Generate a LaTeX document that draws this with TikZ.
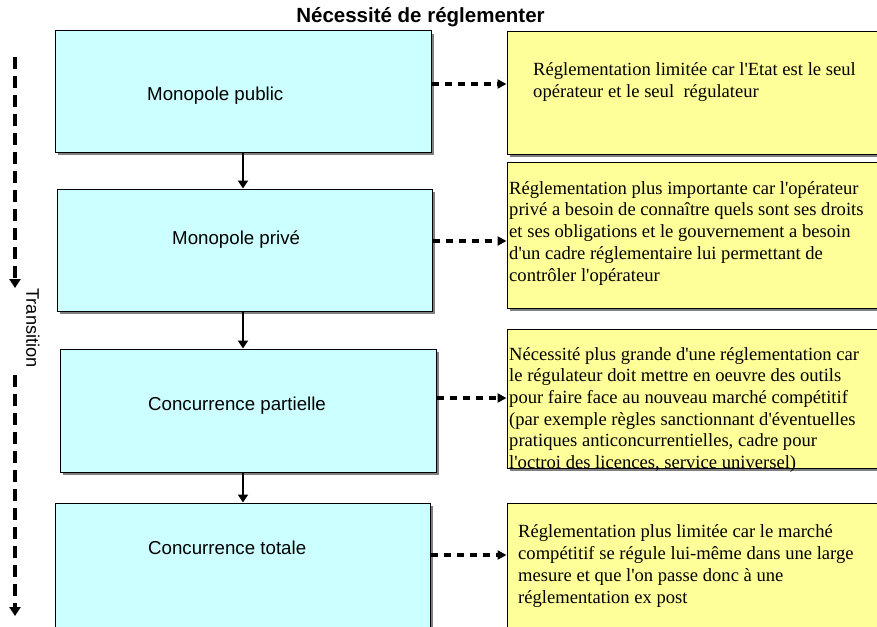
\documentclass[tikz,border=0pt]{standalone}
\usepackage{fontspec}
\setmainfont{Liberation Serif}[Ligatures=TeXOff]
\newfontfamily\arial{Liberation Sans}[Ligatures=TeXOff]
\usetikzlibrary{arrows.meta,shadows}
\definecolor{cyanfill}{HTML}{CCFFFF}
\definecolor{yellowfill}{HTML}{FFFF99}
\definecolor{shadowgray}{HTML}{808080}
\tikzset{
  x=1pt, y=-1pt,
  cbox/.style={draw=black, line width=1pt, fill=cyanfill, rectangle, inner sep=0pt,
    general shadow={fill=shadowgray, shadow xshift=3pt, shadow yshift=-3pt}},
  ybox/.style={draw=black, line width=1pt, fill=yellowfill, rectangle, inner sep=0pt,
    general shadow={fill=shadowgray, shadow xshift=3pt, shadow yshift=-3pt}},
  slabel/.style={anchor=base west, inner sep=0pt, font=\arial\fontsize{18.7}{21}\selectfont},
  ytext/.style={anchor=base west, inner sep=0pt, align=left, font=\fontsize{18.6}{21.7}\selectfont},
  solidarrow/.style={line width=1.8pt, -{Triangle[width=10pt,length=8pt]}},
  dasharrow/.style={line width=3.2pt, dash pattern=on 7pt off 6pt, -{Triangle[width=9pt,length=9pt]}},
  transarrow/.style={line width=3.2pt, dash pattern=on 12pt off 7pt, -{Triangle[width=11pt,length=9pt]}}
}
\begin{document}
\begin{tikzpicture}
\useasboundingbox (0,0) rectangle (877,626);
\clip (0,0) rectangle (877,626);
\fill[white] (0,0) rectangle (877,626);

% title
\node[anchor=base, inner sep=0pt, font=\arial\bfseries\fontsize{20.5}{23}\selectfont] (title) at (420.5,23) {Nécessité de réglementer};

% cyan boxes
\node[cbox, minimum width=376pt, minimum height=121pt] (C1) at (243,91.5) {};
\node[cbox, minimum width=375pt, minimum height=122pt] (C2) at (244.5,250) {};
\node[cbox, minimum width=376pt, minimum height=123pt] (C3) at (248,410.5) {};
\node[cbox, minimum width=375pt, minimum height=127pt] (C4) at (242.5,566.5) {};

% yellow boxes
\node[ybox, minimum width=383pt, minimum height=122pt] (Y1) at (698.5,93) {};
\node[ybox, minimum width=383pt, minimum height=146pt] (Y2) at (698.5,235) {};
\node[ybox, minimum width=383pt, minimum height=139pt] (Y3) at (698.5,398.5) {};
\node[ybox, minimum width=383pt, minimum height=137pt] (Y4) at (698.5,571.5) {};

% labels
\node[slabel] (L1) at (147,100) {Monopole public};
\node[slabel] (L2) at (172,244) {Monopole privé};
\node[slabel] (L3) at (148,410) {Concurrence partielle};
\node[slabel] (L4) at (148,554) {Concurrence totale};

% yellow texts (base anchor = baseline of the last line)
\node[ytext] (T1) at (533,97) {Réglementation limitée car l'Etat est le seul\\opérateur et le seul~ régulateur};
\node[ytext] (T2) at (509,281) {Réglementation plus importante car l'opérateur\\privé a besoin de connaître quels sont ses droits\\et ses obligations et le gouvernement a besoin\\d'un cadre réglementaire lui permettant de\\contrôler l'opérateur};
\node[ytext] (T3) at (509,468.5) {Nécessité plus grande d'une réglementation car\\le régulateur doit mettre en oeuvre des outils\\pour faire face au nouveau marché compétitif\\(par exemple règles sanctionnant d'éventuelles\\pratiques anticoncurrentielles, cadre pour\\l'octroi des licences, service universel)};
\node[ytext] (T4) at (518,603) {Réglementation plus limitée car le marché\\compétitif se régule lui-même dans une large\\mesure et que l'on passe donc à une\\réglementation ex post};

% vertical solid arrows
\draw[solidarrow] (C1.south) -- (C1.south |- C2.north);
\draw[solidarrow] (C1.south |- C2.south) -- (C1.south |- C3.north);
\draw[solidarrow] (C1.south |- C3.south) -- (C1.south |- C4.north);

% dashed arrows
\draw[dasharrow] (C1.east |- 0,84) -- (Y1.west |- 0,84);
\draw[dasharrow] (C2.east |- 0,241) -- (Y2.west |- 0,241);
\draw[dasharrow] (C3.east |- 0,398) -- (Y3.west |- 0,398);
\draw[dasharrow] (C4.east |- 0,555) -- (Y4.west |- 0,555);

% transition
\coordinate (ta) at (15,57);
\coordinate (tb) at (15,288);
\coordinate (tc) at (15,375);
\coordinate (td) at (15,616);
\draw[transarrow] (ta) -- (tb);
\draw[transarrow] (tc) -- (td);
\node[rotate=-90, inner sep=0pt, font=\arial\fontsize{18.2}{21}\selectfont] (trans) at (33,328) {Transition};
\end{tikzpicture}
\end{document}
